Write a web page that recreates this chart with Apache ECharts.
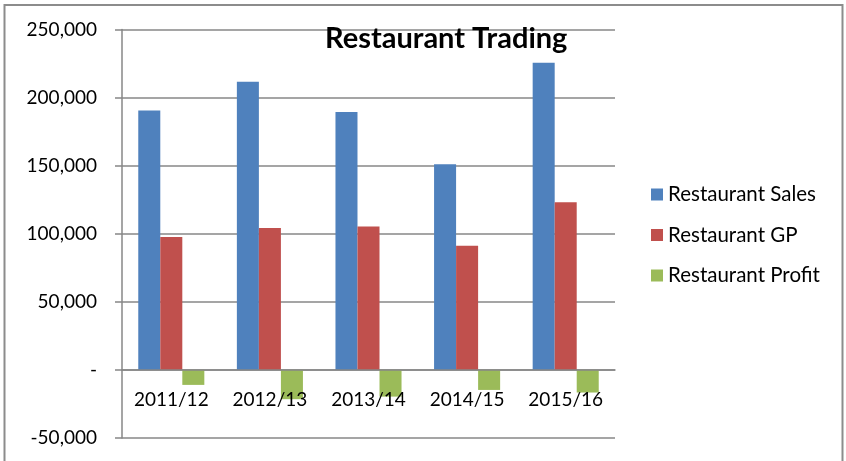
<!DOCTYPE html>
<html>
<head>
<meta charset="utf-8">
<script src="https://cdn.jsdelivr.net/npm/echarts@6/dist/echarts.min.js"></script>
<style>
  html, body { margin: 0; padding: 0; background: #fff; }
  #main { width: 846px; height: 461px; }
</style>
</head>
<body>
<div id="main"></div>
<script>
// 年度
const years = ['2011/12', '2012/13', '2013/14', '2014/15', '2015/16'];
// 系列数据
const sales = [190600, 211700, 189400, 151000, 225600];
const gp = [97700, 104300, 105300, 91100, 123200];
const profit = [-11000, -21500, -19600, -14700, -16600];
// 系列名称
const seriesNames = ['Restaurant Sales', 'Restaurant GP', 'Restaurant Profit'];
const colors = ['#4F81BD', '#C0504D', '#9BBB59'];

const font = 'Lato, "Open Sans", sans-serif';
const gray = '#878787';

const chart = echarts.init(document.getElementById('main'));

chart.setOption({
  animation: false,
  color: colors,
  textStyle: { fontFamily: font },
  title: {
    text: 'Restaurant Trading',
    left: 325,
    top: 24,
    padding: 0,
    textStyle: { fontFamily: font, fontSize: 29, fontWeight: 'bold', color: '#000' }
  },
  legend: {
    orient: 'vertical',
    left: 651,
    top: 184,
    itemWidth: 12,
    itemHeight: 12,
    itemGap: 19.5,
    icon: 'rect',
    padding: 0,
    textStyle: { fontFamily: font, fontSize: 20.5, lineHeight: 20, color: '#000' },
    data: seriesNames
  },
  graphic: [{
    type: 'rect',
    shape: { x: 4.5, y: 5, width: 838, height: 480 },
    style: { fill: 'none', stroke: '#8c8c8c', lineWidth: 2 },
    silent: true
  }],
  grid: { left: 122, right: 231, top: 29.5, bottom: 23, containLabel: false, outerBoundsMode: 'none' },
  xAxis: {
    type: 'category',
    data: years,
    z: 5,
    axisLine: { onZero: false, lineStyle: { color: gray, width: 1.5 } },
    offset: -68,
    axisTick: { length: 6, lineStyle: { color: gray, width: 1.5 } },
    axisLabel: { fontFamily: font, fontSize: 19, color: '#000', margin: 20 }
  },
  yAxis: {
    type: 'value',
    min: -50000,
    max: 250000,
    interval: 50000,
    axisLine: { show: true, lineStyle: { color: gray, width: 1.5 } },
    axisTick: { show: true, length: 7, lineStyle: { color: gray, width: 1.5 } },
    splitLine: { lineStyle: { color: gray, width: 1.5 } },
    axisLabel: {
      fontFamily: font, fontSize: 19, color: '#000', margin: 25,
      formatter: function (v) {
        if (v === 0) return '-';
        return v.toLocaleString('en-US');
      }
    }
  },
  series: [
    { name: seriesNames[0], type: 'bar', data: sales, barGap: '0%', barCategoryGap: '33%' },
    { name: seriesNames[1], type: 'bar', data: gp },
    { name: seriesNames[2], type: 'bar', data: profit }
  ]
});
</script>
</body>
</html>
